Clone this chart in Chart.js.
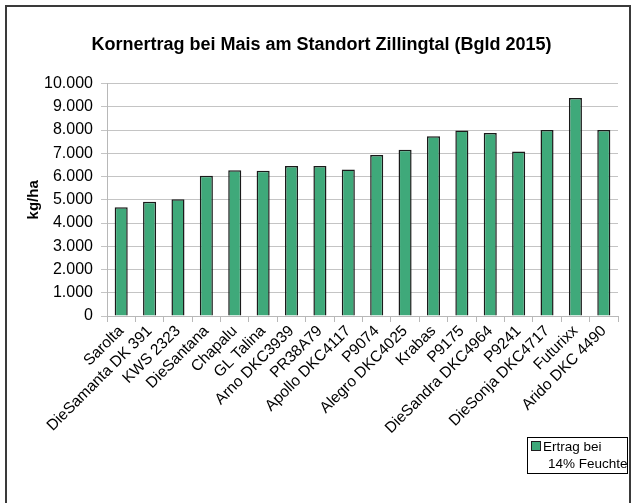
<!DOCTYPE html>
<html>
<head>
<meta charset="utf-8">
<script src="https://cdn.jsdelivr.net/npm/chart.js@4.4.1/dist/chart.umd.min.js"></script>
<style>
  html, body { margin: 0; padding: 0; background: #fff; }
  #wrap { width: 635px; height: 503px; position: relative; }
</style>
</head>
<body>
<div id="wrap"><canvas id="grafica" width="635" height="503"></canvas></div>
<script>
// Sorten und Ertrag (kg/ha bei 14% Feuchte)
const sorten = ['Sarolta', 'DieSamanta DK 391', 'KWS 2323', 'DieSantana', 'Chapalu', 'GL Talina',
    'Arno DKC3939', 'PR38A79', 'Apollo DKC4117', 'P9074', 'Alegro DKC4025', 'Krabas', 'P9175',
    'DieSandra DKC4964', 'P9241', 'DieSonja DKC4717', 'Futurixx', 'Arido DKC 4490'];
const ertrag = [4680, 4920, 5020, 6040, 6270, 6250, 6450, 6450, 6300, 6930, 7150, 7730, 7980,
    7870, 7080, 8000, 9380, 8000];
const titel = 'Kornertrag bei Mais am Standort Zillingtal (Bgld 2015)';
const achsenTitel = 'kg/ha';
const legendeText = ['Ertrag bei', '14% Feuchte'];

const gruen = '#3fa97a';
const fontName = '"Liberation Sans", Arial, sans-serif';

// Rahmen um das Diagramm und Legende unten rechts
const rahmenPlugin = {
    id: 'rahmen',
    beforeDraw(chart) {
        const ctx = chart.ctx;
        ctx.save();
        ctx.fillStyle = '#fff';
        ctx.fillRect(0, 0, chart.width, chart.height);
        ctx.strokeStyle = '#3a3a3a';
        ctx.lineWidth = 2;
        ctx.strokeRect(6, 6, chart.width - 11, chart.height + 10);
        ctx.restore();
    },
    afterDraw(chart) {
        const ctx = chart.ctx;
        const ds = chart.data.datasets[0];
        const x = 527, y = 437, w = 100, h = 36;
        ctx.save();
        ctx.fillStyle = '#fff';
        ctx.fillRect(x, y, w, h);
        ctx.strokeStyle = '#000';
        ctx.lineWidth = 1;
        ctx.strokeRect(x + 0.5, y + 0.5, w, h);
        ctx.fillStyle = ds.backgroundColor;
        ctx.fillRect(x + 4, y + 4, 10, 10);
        ctx.strokeStyle = '#1e1e1e';
        ctx.strokeRect(x + 4.5, y + 4.5, 9, 9);
        ctx.fillStyle = '#000';
        ctx.font = '13.5px ' + fontName;
        ctx.textBaseline = 'middle';
        ctx.fillText(legendeText[0], x + 16, y + 10);
        ctx.fillText(legendeText[1], x + 21, y + 27);
        ctx.restore();
    }
};

const ctx = document.getElementById('grafica').getContext('2d');
const chart = new Chart(ctx, {
    type: 'bar',
    data: {
        labels: sorten,
        datasets: [{
            label: legendeText.join(' '),
            data: ertrag,
            backgroundColor: gruen,
            borderColor: '#1a1a1a',
            borderWidth: 1.5,
            barPercentage: 0.46,
            categoryPercentage: 1
        }]
    },
    options: {
        responsive: false,
        animation: false,
        devicePixelRatio: 1,
        layout: { padding: { left: 25, right: 17, top: 0, bottom: 0 } },
        plugins: {
            legend: { display: false },
            tooltip: { enabled: false },
            title: {
                display: true,
                text: titel,
                color: '#000',
                font: { family: fontName, size: 18, weight: 'bold' },
                padding: { top: 34, bottom: 28 }
            }
        },
        scales: {
            x: {
                grid: {
                    offset: true,
                    drawOnChartArea: false,
                    drawTicks: true,
                    tickLength: 6,
                    color: '#b8b8b8'
                },
                border: { color: '#b8b8b8' },
                ticks: {
                    color: '#000',
                    font: { family: fontName, size: 15.5 },
                    minRotation: 45,
                    maxRotation: 45,
                    autoSkip: false,
                    padding: 0
                },
                afterFit(scale) { scale.height = 187; }
            },
            y: {
                min: 0,
                max: 10000,
                ticks: {
                    stepSize: 1000,
                    color: '#000',
                    font: { family: fontName, size: 16 },
                    padding: 8,
                    callback: v => v.toLocaleString('de-DE')
                },
                grid: { color: '#c4c4c4', tickLength: 6 },
                border: { color: '#b8b8b8' },
                title: {
                    display: true,
                    text: achsenTitel,
                    color: '#000',
                    font: { family: fontName, size: 15, weight: 'bold' },
                    padding: 0
                },
                afterFit(scale) { scale.width = 82; }
            }
        }
    },
    plugins: [rahmenPlugin]
});
</script>
</body>
</html>
